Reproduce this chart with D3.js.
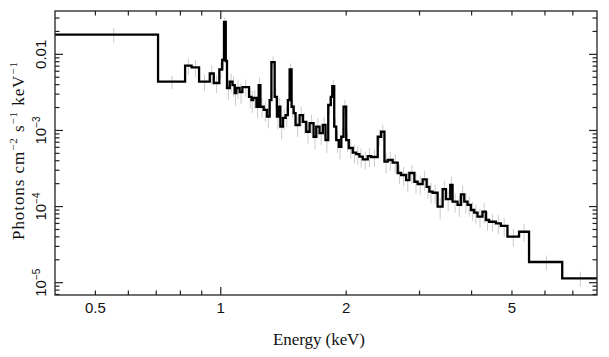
<!DOCTYPE html>
<html><head><meta charset="utf-8">
<script src="https://cdn.jsdelivr.net/npm/d3@7/dist/d3.min.js"></script>
<style>body{margin:0;background:#fff}svg{display:block}</style>
</head><body><svg id="chart" width="609" height="357"></svg>
<script>
// Bin edges in keV (101 edges -> 100 bins)
const energyEdges = [
  0.40, 0.707, 0.821, 0.851, 0.887, 0.941, 0.962, 0.992, 1.008, 1.018,
  1.028, 1.035, 1.051, 1.067, 1.080, 1.090, 1.110, 1.127, 1.169, 1.185,
  1.195, 1.218, 1.233, 1.245, 1.268, 1.291, 1.310, 1.323, 1.347, 1.364,
  1.379, 1.390, 1.410, 1.431, 1.449, 1.463, 1.479, 1.496, 1.512, 1.546,
  1.574, 1.604, 1.634, 1.670, 1.695, 1.726, 1.758, 1.784, 1.811, 1.837,
  1.852, 1.872, 1.893, 1.920, 1.946, 1.971, 2.000, 2.029, 2.074, 2.114,
  2.152, 2.192, 2.253, 2.296, 2.381, 2.426, 2.471, 2.516, 2.586, 2.659,
  2.709, 2.785, 2.836, 2.915, 2.969, 3.052, 3.120, 3.167, 3.225, 3.315,
  3.408, 3.472, 3.555, 3.601, 3.701, 3.771, 3.841, 3.911, 3.985, 4.058,
  4.133, 4.248, 4.329, 4.408, 4.574, 4.702, 4.877, 5.200, 5.495, 6.601,
  8.0
];
// Model flux per bin (photons cm^-2 s^-1 keV^-1)
const flux = [
  1.82e-2, 4.37e-3, 7.09e-3, 6.75e-3, 4.37e-3, 5.60e-3, 4.20e-3, 6.32e-3, 8.42e-3, 2.66e-2,
  8.17e-3, 3.61e-3, 4.37e-3, 3.95e-3, 3.10e-3, 3.61e-3, 3.20e-3, 3.72e-3, 2.77e-3, 2.51e-3,
  2.67e-3, 2.05e-3, 3.95e-3, 2.05e-3, 1.86e-3, 1.52e-3, 2.51e-3, 7.92e-3, 2.77e-3, 1.52e-3,
  2.05e-3, 1.12e-3, 1.46e-3, 1.59e-3, 2.51e-3, 6.32e-3, 2.05e-3, 1.69e-3, 1.18e-3, 1.59e-3,
  1.30e-3, 9.62e-4, 1.25e-3, 8.27e-4, 1.12e-3, 9.25e-4, 1.18e-3, 7.48e-4, 2.16e-3, 2.77e-3,
  3.83e-3, 1.12e-3, 7.48e-4, 6.11e-4, 8.27e-4, 2.05e-3, 7.48e-4, 5.88e-4, 5.10e-4, 4.90e-4,
  4.52e-4, 4.18e-4, 4.61e-4, 4.48e-4, 8.27e-4, 9.62e-4, 3.89e-4, 4.09e-4, 3.79e-4, 2.76e-4,
  2.60e-4, 2.23e-4, 2.76e-4, 2.12e-4, 1.98e-4, 2.28e-4, 1.82e-4, 1.57e-4, 1.52e-4, 9.96e-5,
  1.69e-4, 1.25e-4, 1.92e-4, 1.16e-4, 1.05e-4, 1.45e-4, 1.16e-4, 1.05e-4, 9.01e-5, 8.31e-5,
  7.36e-5, 8.56e-5, 6.66e-5, 6.32e-5, 6.03e-5, 5.56e-5, 4.02e-5, 4.67e-5, 1.87e-5, 1.14e-5
];
// Relative data uncertainty per bin (grey error bars)
const relErr = [
  0.22, 0.20, 0.25, 0.25, 0.24, 0.28, 0.26, 0.24, 0.20, 0.15,
  0.22, 0.30, 0.28, 0.30, 0.32, 0.28, 0.30, 0.25, 0.30, 0.32,
  0.28, 0.30, 0.25, 0.28, 0.30, 0.30, 0.28, 0.18, 0.28, 0.32,
  0.30, 0.32, 0.30, 0.30, 0.26, 0.20, 0.28, 0.30, 0.30, 0.28,
  0.30, 0.30, 0.28, 0.32, 0.30, 0.30, 0.28, 0.32, 0.26, 0.24,
  0.20, 0.30, 0.32, 0.32, 0.30, 0.24, 0.30, 0.28, 0.28, 0.28,
  0.28, 0.26, 0.28, 0.26, 0.25, 0.24, 0.30, 0.28, 0.28, 0.28,
  0.28, 0.30, 0.28, 0.30, 0.28, 0.30, 0.30, 0.30, 0.28, 0.32,
  0.30, 0.30, 0.30, 0.28, 0.30, 0.30, 0.30, 0.30, 0.28, 0.28,
  0.28, 0.30, 0.28, 0.26, 0.28, 0.28, 0.26, 0.26, 0.22, 0.22
];
const xTickValues = [0.5, 1, 2, 5];
const xTickLabels = ["0.5", "1", "2", "5"];
const yTickValues = [1e-5, 1e-4, 1e-3, 1e-2];
const yTickBase = ["10", "10", "10", "0.01"];
const yTickExp = ["\u22125", "\u22124", "\u22123", ""];
const xTitle = "Energy (keV)";
const yTitleParts = [["Photons cm", false], ["\u22122", true], [" s", false], ["\u22121", true], [" keV", false], ["\u22121", true]];

const svg = d3.select("#chart");
const L = 55, R = 597, T = 11, B = 295;
const x = d3.scaleLog().domain([0.4, 8]).range([L, R]);
const y = d3.scaleLog().domain([6.89e-6, 0.0371]).range([B, T]);

svg.append("defs").append("clipPath").attr("id", "clip")
  .append("rect").attr("x", L).attr("y", T).attr("width", R - L).attr("height", B - T);

const plot = svg.append("g").attr("clip-path", "url(#clip)");

// grey data error bars at bin centers
const bins = flux.map((f, i) => ({lo: energyEdges[i], hi: energyEdges[i + 1], f, e: relErr[i]}));
plot.selectAll("line.err").data(bins).join("line").attr("class", "err")
  .attr("x1", d => x((d.lo + d.hi) / 2)).attr("x2", d => x((d.lo + d.hi) / 2))
  .attr("y1", d => y(d.f * (1 + d.e))).attr("y2", d => y(d.f * (1 - d.e)))
  .attr("stroke", "#cbcbcb").attr("stroke-width", 1);

// step model line
const pts = [];
bins.forEach(d => { pts.push([d.lo, d.f]); pts.push([d.hi, d.f]); });
plot.append("path").datum(pts)
  .attr("d", d3.line().x(d => x(d[0])).y(d => y(d[1])))
  .attr("fill", "none").attr("stroke", "#000").attr("stroke-width", 2.3)
  .attr("stroke-linejoin", "miter");

// frame
svg.append("rect").attr("x", L).attr("y", T).attr("width", R - L).attr("height", B - T)
  .attr("fill", "none").attr("stroke", "#222").attr("stroke-width", 1.3);

const isDecade = v => Math.abs(Math.log10(v) - Math.round(Math.log10(v))) < 1e-6;
const frame = svg.append("g").attr("stroke", "#222").attr("stroke-width", 1.2);
x.ticks().forEach(v => {
  const px = x(v);
  if (px <= L + 0.5 || px >= R - 0.5) return;
  const len = isDecade(v) ? 8 : 4.5;
  frame.append("line").attr("x1", px).attr("x2", px).attr("y1", B).attr("y2", B - len);
  frame.append("line").attr("x1", px).attr("x2", px).attr("y1", T).attr("y2", T + len);
});
y.ticks().forEach(v => {
  const py = y(v);
  if (py <= T + 0.5 || py >= B - 0.5) return;
  const len = isDecade(v) ? 8 : 4.5;
  frame.append("line").attr("y1", py).attr("y2", py).attr("x1", L).attr("x2", L + len);
  frame.append("line").attr("y1", py).attr("y2", py).attr("x1", R).attr("x2", R - len);
});

// x tick labels
svg.append("g").selectAll("text").data(xTickValues).join("text")
  .attr("x", d => x(d)).attr("y", 313).attr("text-anchor", "middle")
  .attr("font-family", "Liberation Sans, Arial, sans-serif").attr("font-size", 15).attr("fill", "#111")
  .text((d, i) => xTickLabels[i]);

// y tick labels (rotated)
const yl = svg.append("g").selectAll("text").data(yTickValues).join("text")
  .attr("transform", d => `translate(46,${y(d)}) rotate(-90)`)
  .attr("text-anchor", "middle")
  .attr("font-family", "Liberation Sans, Arial, sans-serif").attr("font-size", 15).attr("fill", "#111");
yl.append("tspan").text((d, i) => yTickBase[i]);
yl.append("tspan").attr("dy", -6).attr("font-size", 10).text((d, i) => yTickExp[i]);

// axis titles
svg.append("text").attr("x", 319).attr("y", 344.5).attr("text-anchor", "middle")
  .attr("font-family", "Liberation Serif, Times New Roman, serif").attr("font-size", 17).attr("fill", "#111")
  .attr("textLength", 92).attr("lengthAdjust", "spacing")
  .text(xTitle);

const yt = svg.append("text").attr("transform", "translate(23.5,151) rotate(-90)")
  .attr("text-anchor", "middle")
  .attr("textLength", 178).attr("lengthAdjust", "spacing")
  .attr("font-family", "Liberation Serif, Times New Roman, serif").attr("font-size", 17).attr("fill", "#111");
yTitleParts.forEach(([t, sup], i) => {
  const ts = yt.append("tspan").text(t);
  if (sup) ts.attr("dy", -7).attr("font-size", 11);
  else if (i > 0 && yTitleParts[i - 1][1]) ts.attr("dy", 7);
});
</script>
</body></html>
